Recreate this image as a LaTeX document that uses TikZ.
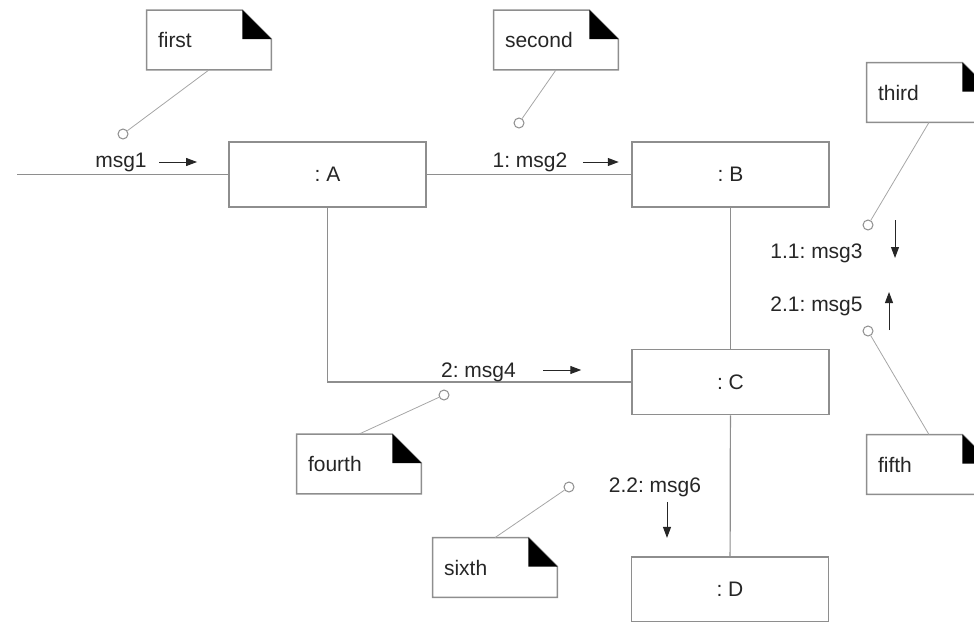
\documentclass[tikz,border=0pt]{standalone}
\usepackage{fontspec}
\setmainfont{Liberation Sans}
\usepackage{tikz}
\usetikzlibrary{arrows.meta, positioning, calc}
\definecolor{boxgray}{HTML}{8E8E8E}
\definecolor{tethergray}{HTML}{A6A6A6}
\definecolor{ink}{HTML}{262626}
\newcommand{\diagfont}{\fontsize{10.5}{12.6}\selectfont\frenchspacing}
\tikzset{
    obj/.style={draw=boxgray, line width=0.8pt, fill=white, minimum width=98.5pt, minimum height=32.5pt,
                inner sep=0pt, text=ink, font=\diagfont},
    memo/.style={minimum width=62pt, minimum height=29.5pt, inner xsep=5.5pt, inner ysep=0pt,
                 text width=51pt, align=left, text=ink, font=\diagfont},
    memofrm/.style={draw=boxgray, line width=0.8pt},
    link/.style={draw=boxgray, line width=0.6pt},
    tether/.style={draw=tethergray, line width=0.4pt},
    knob/.style={circle, draw=boxgray, fill=white, line width=0.5pt, inner sep=0pt, minimum size=5pt},
    msg/.style={text=ink, font=\diagfont, inner sep=0pt},
    flow/.style={-{Triangle[length=5.5pt,width=4pt]}, draw=ink, line width=0.5pt}
}
% dog-eared note outline around a memo node
\newcommand{\memobox}[1]{%
    \draw[memofrm] (#1.north west) -- ($(#1.north east)+(-14.5pt,0)$) -- ($(#1.north east)+(0,-14.5pt)$)
        -- (#1.south east) -- (#1.south west) -- cycle;
    \fill[black] ($(#1.north east)+(-14.5pt,0)$) -- ($(#1.north east)+(-14.5pt,-14.5pt)$)
        -- ($(#1.north east)+(0,-14.5pt)$) -- cycle;
}
\begin{document}
\begin{tikzpicture}[x=0.5pt, y=-0.5pt]
    \useasboundingbox (0,0) rectangle (974,621);
    \clip (0,0) rectangle (974,621);
    % objects
    \node[obj] (A) at (327.5,174.5) {: A};
    \node[obj] (B) at (730.5,174.5) {: B};
    \node[obj] (C) at (730.5,382) {: C};
    \node[obj] (D) at (730,589.5) {: D};
    % links
    \coordinate (entry) at (17,174.5);
    \draw[link] (entry) -- (A);
    \draw[link] (A) -- (B);
    \draw[link] (B) -- (C);
    \draw[link] (C) -- (D);
    \draw[link] (A.south) |- (C.west);
    % messages
    \node[msg] (m1) at (121,162) {msg1};
    \draw[flow] ($(m1.east)+(12,0)$) -- ++(38,0);
    \node[msg] (m2) at (530,162) {1: msg2};
    \draw[flow] ($(m2.east)+(15,0)$) -- ++(36,0);
    \node[msg] (m4) at (478.5,372) {2: msg4};
    \draw[flow] ($(m4.east)+(27,-2)$) -- ++(38,0);
    \node[msg] (m3) at (816.5,253) {1.1: msg3};
    \draw[flow] ($(m3.east)+(32,-33)$) -- ++(0,38);
    \node[msg] (m5) at (816.5,306) {2.1: msg5};
    \draw[flow] ($(m5.east)+(26,24)$) -- ++(0,-38);
    \node[msg] (m6) at (655,487) {2.2: msg6};
    \draw[flow] ($(m6.south)+(12,5)$) -- ++(0,36);
    % notes
    \node[memo] (n1) at (209,40) {first};
    \node[memo] (n2) at (556,40) {second};
    \node[memo] (n3) at (929,92.5) {third};
    \node[memo] (n4) at (359,464) {fourth};
    \node[memo] (n5) at (929,464.5) {fifth};
    \node[memo] (n6) at (495,567.5) {sixth};
    \foreach \n in {n1,n2,n3,n4,n5,n6} \memobox{\n};
    % note anchors
    \node[knob] (k1) at (123,134) {};
    \node[knob] (k2) at (519,123) {};
    \node[knob] (k3) at (868,225) {};
    \node[knob] (k4) at (444,395) {};
    \node[knob] (k5) at (868,331) {};
    \node[knob] (k6) at (569,487) {};
    \draw[tether] (n1.south) -- (k1);
    \draw[tether] (n2.south) -- (k2);
    \draw[tether] (n3.south) -- (k3);
    \draw[tether] (n4.north) -- (k4);
    \draw[tether] (n5.north) -- (k5);
    \draw[tether] (n6.north) -- (k6);
\end{tikzpicture}
\end{document}
